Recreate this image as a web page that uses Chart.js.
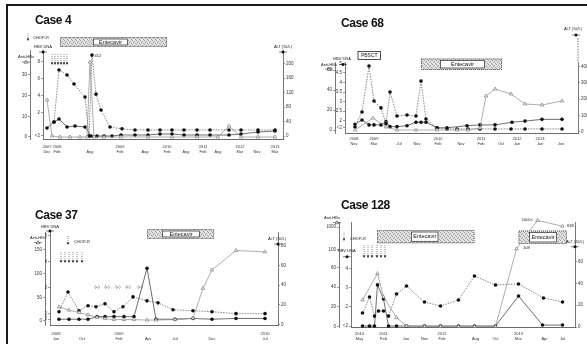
<!DOCTYPE html>
<html>
<head>
<meta charset="utf-8">
<title>HBV reactivation cases</title>
<script src="https://cdn.jsdelivr.net/npm/chart.js@4.4.1/dist/chart.umd.min.js"></script>
<style>
  html, body { margin: 0; padding: 0; background: #fff; }
  #page { position: relative; width: 587px; height: 344px; overflow: hidden; font-family: "Liberation Sans", Arial, sans-serif; }
  #page canvas { position: absolute; }
  .case { position: absolute; font-weight: bold; font-size: 12px; line-height: 12px; letter-spacing: -0.4px; color: #111; }
  .edge { position: absolute; background: #1a1a1a; }
</style>
</head>
<body>
<div id="page">
  <div class="edge" style="left:6px;top:4px;width:581px;height:1.5px"></div>
  <div class="edge" style="left:6px;top:4px;width:1.5px;height:340px"></div>
  <canvas id="case4" width="295" height="172" style="left:0;top:0"></canvas>
  <canvas id="case68" width="295" height="172" style="left:292px;top:0"></canvas>
  <canvas id="case37" width="295" height="172" style="left:0;top:172px"></canvas>
  <canvas id="case128" width="295" height="172" style="left:292px;top:172px"></canvas>
  <div class="case" style="left:35px;top:14px">Case 4</div>
  <div class="case" style="left:341px;top:17px">Case 68</div>
  <div class="case" style="left:35px;top:209px">Case 37</div>
  <div class="case" style="left:341px;top:199px">Case 128</div>
</div>
<script>
'use strict';

const FONT = '"Liberation Sans", Arial, sans-serif';

// ---- Case 4 ----
const case4TickX = [0, 10, 43, 73, 98, 120, 139, 156, 171, 193, 210, 228];
const case4TickText = [['2007', 'Dec'], ['2008', 'Feb'], ['', 'Aug'], ['2009', 'Feb'], ['', 'Aug'], ['2010', 'Feb'], ['', 'Aug'], ['2011', 'Feb'], ['', 'Aug'], ['2012', 'Mar'], ['', 'Nov'], ['2013', 'Mar']];
const case4AltX = [7, 12, 20, 27, 38, 42, 45, 49, 54, 63, 75, 88, 101, 113, 125, 137, 150, 163, 182, 194, 211, 228];
const case4Alt = [39, 183, 169, 144, 108, 0, 224, 116, 72, 25, 20, 17, 17, 17, 17, 17, 17, 17, 17, 17, 17, 17];
const case4DnaX = [0, 7, 12, 20, 28, 38, 44, 50, 57, 65, 74, 88, 101, 113, 125, 137, 150, 163, 182, 194, 211, 228];
const case4Dna = [0.24, 0.94, 1.29, 0.35, 0.47, 0.35, -0.71, -0.71, -0.71, -0.71, -0.59, -0.59, -0.59, -0.47, -0.47, -0.59, -0.59, -0.59, -0.59, -0.47, -0.24, -0.12];
const case4AntiX = [0, 5, 13, 23, 33, 40, 43, 47, 57, 74, 101, 125, 150, 171, 182, 194, 211, 228];
const case4Anti = [17.9, 0.5, 0, 0, 0, 0, 36.2, 0, 0, 0, 0, 0, 0, 0, 5.3, 0, 0, 0];
const case4AltTicks = [0, 40, 80, 120, 160, 200];
const case4DnaTicks = [-0.7, 2, 4, 6, 8];
const case4DnaText = ['<2', '2', '4', '6', '8'];
const case4AntiTicks = [0, 10, 20, 30];

// ---- Case 68 ----
const case68TickX = [0, 20, 45, 63, 84, 107, 127, 147, 163, 186, 207];
const case68TickText = [['2008', 'Nov'], ['2009', 'Mar'], ['', 'Jul'], ['', 'Nov'], ['2010', 'Feb'], ['', 'Nov'], ['2011', 'Feb'], ['', 'Oct'], ['2012', 'Jan'], ['2013', 'Jan'], ['', 'Jun']];
const case68AltX = [1, 8, 15, 20, 27, 32, 36, 43, 53, 62, 67, 72, 83, 93, 103, 114, 126, 141, 157, 171, 188, 208];
const case68Alt = [29, 121, 403, 188, 146, 47, 244, 96, 102, 96, 311, 78, 23, 17, 17, 17, 17, 17, 17, 17, 17, 17];
const case68DnaX = [1, 8, 15, 20, 27, 32, 36, 43, 53, 62, 67, 72, 83, 93, 113, 126, 141, 158, 171, 188, 208];
const case68Dna = [1.81, 2.04, 1.78, 1.78, 1.78, 1.95, 1.69, 1.69, 1.74, 1.92, 1.92, 1.92, 1.63, 1.63, 1.74, 1.78, 1.78, 1.92, 1.98, 2.07, 2.07];
const case68AntiX = [1, 19, 32, 43, 62, 83, 103, 114, 126, 132, 141, 157, 171, 188, 208];
const case68Anti = [0, 12, 3, 0, 0, 0, 0, 0, 2, 34, 41, 36, 26, 25, 29];
const case68AltTicks = [0, 100, 200, 300, 400];
const case68DnaTicks = [1.655, 2, 2.5, 3, 3.5, 4, 4.5, 5];
const case68DnaText = ['<2', '2', '2.5', '3', '3.5', '4', '4.5', '5'];
const case68AntiTicks = [0, 20, 40, 60];

// ---- Case 37 ----
const case37TickX = [0, 26, 63, 92, 119, 156, 209];
const case37TickText = [['2008', 'Jun'], ['', 'Oct'], ['2009', 'Feb'], ['', 'Apr'], ['', 'Jul'], ['', 'Dec'], ['2010', 'Jul']];
const case37AltX = [3, 12, 23, 32, 40, 49, 58, 67, 77, 91, 102, 117, 137, 156, 180, 209];
const case37Alt = [13, 33, 14, 19, 18, 21, 13, 18, 28, 24, 22, 15, 14, 13, 11, 11];
const case37DnaX = [3, 13, 23, 32, 41, 49, 58, 68, 78, 91, 100, 119, 137, 156, 180, 209];
const case37Dna = [1.77, 1.77, 1.77, 1.77, 1.87, 1.87, 1.87, 1.87, 1.87, 3.75, 1.77, 1.77, 1.8, 1.77, 1.8, 1.8];
const case37AntiX = [3, 13, 23, 32, 41, 49, 58, 68, 78, 91, 100, 119, 137, 147, 156, 180, 209];
const case37Anti = [30, 23, 18, 13, 8, 5, 3, 3, 3, 2, 2, 3, 6, 69, 108, 149, 146];
const case37AltTicks = [0, 20, 40, 60, 80];
const case37DnaTicks = [1.77, 2, 3, 4, 5];
const case37DnaText = ['<2', '2', '3', '4', '5'];
const case37AntiTicks = [0, 50, 100, 150];

// ---- Case 128 ----
const case128TickX = [0, 24, 46.5, 65, 82.5, 116, 136, 159, 185, 203];
const case128TickText = [['2010', 'May'], ['2011', 'Feb'], ['', 'Jun'], ['', 'Nov'], ['2012', 'Feb'], ['', 'Aug'], ['', 'Oct'], ['2013', 'Mar'], ['', 'Apr'], ['', 'Jul']];
const case128AltX = [3, 10, 15, 19, 24, 29, 37, 47, 65, 81, 99, 115, 136, 159, 184, 203];
const case128Alt = [12.8, 27.5, 10, 14.7, 14.7, 10, 30.2, 37.5, 22.9, 19.2, 24.7, 46.7, 38.5, 39.4, 26.6, 22.9];
const case128DnaX = [3, 10, 15, 18, 24, 29, 37, 47, 65, 81, 99, 115, 136, 159, 183, 203];
const case128Dna = [1, 1, 1, 3.14, 2.41, 1, 1, 1, 1, 1, 1, 1, 1, 2.56, 1.05, 1.05];
const case128AntiX = [3, 18, 24, 37, 47, 65, 81, 99, 115, 136, 157, 178, 203];
const case128Anti = [27, 54, 30, 9, 0.5, 0, 0, 0, 0, 0, 79, 108, 102];
const case128AltTicks = [0, 20, 40, 60];
const case128DnaTicks = [1, 2, 3, 4];
const case128DnaText = ['<2', '2', '3', '4'];
const case128AntiTicks = [0, 20, 40, 60, 78.5, 101];
const case128AntiText = ['0', '20', '40', '60', '100', '1000'];

Chart.defaults.font.family = FONT;

// little stippled tile for the therapy bars
let hatchTile = null;
function hatchFill(ctx) {
  if (!hatchTile) {
    hatchTile = document.createElement('canvas');
    hatchTile.width = 4;
    hatchTile.height = 4;
    const g = hatchTile.getContext('2d');
    g.fillStyle = '#e3e3e3';
    g.fillRect(0, 0, 4, 4);
    g.fillStyle = '#9c9c9c';
    [[0, 0], [2, 1], [1, 2], [3, 3]].forEach(p => g.fillRect(p[0], p[1], 1, 1));
  }
  return ctx.createPattern(hatchTile, 'repeat');
}

function drawSym(ctx, type, x, y) {
  ctx.strokeStyle = '#333';
  ctx.lineWidth = 0.6;
  ctx.beginPath();
  ctx.moveTo(x - 4, y);
  ctx.lineTo(x + 4, y);
  ctx.stroke();
  if (type === 'tri') {
    ctx.fillStyle = '#fff';
    ctx.beginPath();
    ctx.moveTo(x, y - 1.8);
    ctx.lineTo(x + 1.7, y + 1.2);
    ctx.lineTo(x - 1.7, y + 1.2);
    ctx.closePath();
    ctx.fill();
    ctx.stroke();
  } else {
    ctx.fillStyle = '#111';
    ctx.beginPath();
    ctx.arc(x, y, 1.5, 0, Math.PI * 2);
    ctx.fill();
  }
}

function drawArrow(ctx, x, top, bottom) {
  ctx.strokeStyle = '#444';
  ctx.lineWidth = 0.6;
  ctx.setLineDash([1, 1]);
  ctx.beginPath();
  ctx.moveTo(x, top);
  ctx.lineTo(x, bottom - 2);
  ctx.stroke();
  ctx.setLineDash([]);
  ctx.fillStyle = '#111';
  ctx.beginPath();
  ctx.moveTo(x - 1.3, bottom - 2.6);
  ctx.lineTo(x + 1.3, bottom - 2.6);
  ctx.lineTo(x, bottom);
  ctx.closePath();
  ctx.fill();
}

// boxes, arrows and labels that sit on top of each panel
const notesPlugin = {
  id: 'notes',
  afterDatasetsDraw(chart, args, opts) {
    const ctx = chart.ctx;
    const xs = chart.scales.x;
    const px = v => xs.getPixelForValue(v);
    ctx.save();

    (opts.axisExt || []).forEach(e => {
      const s = chart.scales[e.axis];
      const x = s.position === 'right' ? s.left : s.right;
      ctx.strokeStyle = '#555';
      ctx.lineWidth = 0.8;
      ctx.setLineDash([1.5, 1.2]);
      ctx.beginPath();
      ctx.moveTo(x, e.top);
      ctx.lineTo(x, chart.chartArea.top);
      ctx.stroke();
      ctx.setLineDash([]);
    });

    (opts.boxes || []).forEach(b => {
      const x0 = px(b.from);
      const x1 = px(b.to);
      const h = b.bottom - b.top;
      let cx = (x0 + x1) / 2;
      if (b.plain) {
        ctx.fillStyle = '#fff';
        ctx.fillRect(x0, b.top, x1 - x0, h);
        ctx.strokeStyle = '#222';
        ctx.lineWidth = 0.8;
        ctx.strokeRect(x0 + 0.5, b.top + 0.5, x1 - x0 - 1, h - 1);
      } else {
        ctx.fillStyle = hatchFill(ctx);
        ctx.fillRect(x0, b.top, x1 - x0, h);
        ctx.strokeStyle = '#444';
        ctx.lineWidth = 0.8;
        ctx.setLineDash([1, 1]);
        ctx.strokeRect(x0 + 0.5, b.top + 0.5, x1 - x0 - 1, h - 1);
        ctx.setLineDash([]);
        const i0 = px(b.inner[0]);
        const i1 = px(b.inner[1]);
        ctx.fillStyle = '#fff';
        ctx.fillRect(i0, b.top + 1.5, i1 - i0, h - 3);
        ctx.strokeStyle = '#222';
        ctx.lineWidth = 0.7;
        ctx.strokeRect(i0 + 0.5, b.top + 2, i1 - i0 - 1, h - 4);
        cx = (i0 + i1) / 2;
      }
      ctx.fillStyle = '#111';
      ctx.font = (b.size || 5.5) + 'px ' + FONT;
      ctx.textAlign = 'center';
      ctx.textBaseline = 'middle';
      ctx.fillText(b.text, cx, b.top + h / 2 + 0.3);
    });

    if (opts.arrows) {
      opts.arrows.at.forEach(v => drawArrow(ctx, px(v), opts.arrows.top, opts.arrows.bottom));
    }
    if (opts.legendArrow) {
      const l = opts.legendArrow;
      drawArrow(ctx, l.x, l.top, l.bottom);
      ctx.fillStyle = '#222';
      ctx.font = '4px ' + FONT;
      ctx.textAlign = 'left';
      ctx.textBaseline = 'middle';
      ctx.fillText(l.text, l.tx, l.ty);
    }

    (opts.texts || []).forEach(t => {
      const x = t.xv !== undefined ? px(t.xv) : t.xp;
      ctx.fillStyle = '#222';
      ctx.font = (t.size || 4) + 'px ' + FONT;
      ctx.textAlign = t.align || 'center';
      ctx.textBaseline = 'middle';
      ctx.fillText(t.text, x, t.y);
    });

    (opts.syms || []).forEach(s => drawSym(ctx, s.type, s.x, s.y));
    ctx.restore();
  }
};

function yScale(pos, weight, width, min, max, ticks, text) {
  return {
    type: 'linear',
    position: pos,
    weight: weight,
    min: min,
    max: max,
    afterFit: s => { s.width = width; },
    afterBuildTicks: s => { s.ticks = ticks.map(v => ({ value: v })); },
    border: { display: true, color: '#555', width: 0.8, dash: [1.5, 1.2] },
    grid: { display: true, drawOnChartArea: false, drawTicks: true, tickLength: 2, color: '#555', lineWidth: 0.6 },
    ticks: {
      font: { size: 4.5 },
      color: '#333',
      padding: 1,
      autoSkip: false,
      callback: (v, i) => (text ? text[i] : String(ticks[i]))
    }
  };
}

function makeCase(id, d, lay, notes) {
  const pts = (xs, ys) => xs.map((x, i) => ({ x: x, y: ys[i] }));
  new Chart(document.getElementById(id), {
    type: 'scatter',
    data: {
      datasets: [
        {
          label: 'Anti-HBs', data: pts(d.antiX, d.anti), yAxisID: 'yA', showLine: true, clip: false,
          borderColor: '#8a8a8a', borderWidth: 0.7, pointStyle: 'triangle', pointRadius: 2,
          pointBackgroundColor: '#fff', pointBorderColor: '#666', pointBorderWidth: 0.6
        },
        {
          label: 'ALT (IU/L)', data: pts(d.altX, d.alt), yAxisID: 'yR', showLine: true, clip: false,
          borderColor: '#6a6a6a', borderWidth: 0.8, borderDash: [1.5, 1.2], pointRadius: 1.8,
          pointBackgroundColor: '#111', pointBorderColor: '#111', pointBorderWidth: 0
        },
        {
          label: 'HBV DNA', data: pts(d.dnaX, d.dna), yAxisID: 'yD', showLine: true, clip: false,
          borderColor: '#4a4a4a', borderWidth: 0.8, pointRadius: 1.8,
          pointBackgroundColor: '#111', pointBorderColor: '#111', pointBorderWidth: 0
        }
      ]
    },
    options: {
      responsive: false,
      animation: false,
      events: [],
      layout: { padding: lay.pad },
      plugins: { legend: { display: false }, tooltip: { enabled: false }, notes: notes },
      scales: {
        x: {
          type: 'linear',
          min: lay.xMin,
          max: lay.xMax,
          afterFit: s => { s.height = lay.xH; },
          afterBuildTicks: s => { s.ticks = d.tickX.map(v => ({ value: v })); },
          border: { display: true, color: '#444', width: 0.8, dash: [1.5, 1.2] },
          grid: { display: false, drawTicks: false },
          ticks: {
            font: { size: 4, lineHeight: 1.35 },
            color: '#333',
            padding: lay.xPad,
            maxRotation: 0,
            autoSkip: false,
            callback: (v, i) => d.tickText[i]
          }
        },
        yA: yScale('left', 2, lay.antiW, lay.antiMin, lay.antiMax, d.antiTicks, d.antiText),
        yD: yScale('left', 1, lay.dnaW, lay.dnaMin, lay.dnaMax, d.dnaTicks, d.dnaText),
        yR: yScale('right', 1, lay.altW, lay.altMin, lay.altMax, d.altTicks, null)
      }
    },
    plugins: [notesPlugin]
  });
}

makeCase('case4', {
  tickX: case4TickX, tickText: case4TickText,
  altX: case4AltX, alt: case4Alt, dnaX: case4DnaX, dna: case4Dna, antiX: case4AntiX, anti: case4Anti,
  altTicks: case4AltTicks, dnaTicks: case4DnaTicks, dnaText: case4DnaText, antiTicks: case4AntiTicks
}, {
  pad: { left: 18, right: 0, top: 50, bottom: 13 }, antiW: 12, dnaW: 13, altW: 12, xH: 20, xPad: 5,
  xMin: -4, xMax: 236, altMin: -8, altMax: 238.1, dnaMin: -1.06, dnaMax: 9.41, antiMin: -0.97, antiMax: 42
}, {
  boxes: [{ from: 13, to: 120, top: 37, bottom: 47, inner: [46, 81], text: 'Entecavir' }],
  arrows: { at: [5, 8, 11, 14, 17, 20], top: 54, bottom: 65 },
  legendArrow: { x: 28, top: 33, bottom: 41, text: 'CHOP-R', tx: 33, ty: 37.5 },
  texts: [
    { xv: 47.5, y: 56, text: '412', align: 'left' },
    { xp: 26, y: 57, text: 'Anti-HBs' },
    { xp: 43, y: 47, text: 'HBV DNA' },
    { xp: 283, y: 47, text: 'ALT (IU/L)' }
  ],
  syms: [{ type: 'tri', x: 26, y: 62 }, { type: 'dot', x: 43, y: 52 }, { type: 'dot', x: 283, y: 52 }]
});

makeCase('case68', {
  tickX: case68TickX, tickText: case68TickText,
  altX: case68AltX, alt: case68Alt, dnaX: case68DnaX, dna: case68Dna, antiX: case68AntiX, anti: case68Anti,
  altTicks: case68AltTicks, dnaTicks: case68DnaTicks, dnaText: case68DnaText, antiTicks: case68AntiTicks
}, {
  pad: { left: 31, right: 0, top: 62, bottom: 19 }, antiW: 12, dnaW: 10, altW: 9, xH: 20, xPad: 3,
  xMin: -9, xMax: 224, altMin: -8, altMax: 427.6, dnaMin: 1.357, dnaMax: 5.07, antiMin: -3, antiMax: 68
}, {
  axisExt: [{ axis: 'yR', top: 38 }],
  boxes: [
    { from: 67, to: 148, top: 58.5, bottom: 70, inner: [86, 131], text: 'Entecavir' },
    { from: 3.5, to: 27, top: 51, bottom: 60, plain: true, text: 'PBSCT', size: 5 }
  ],
  texts: [
    { xp: 50, y: 58.5, text: 'HBV DNA' },
    { xp: 37, y: 64.5, text: 'Anti-HBs' },
    { xp: 281, y: 29, text: 'ALT (IU/L)' }
  ],
  syms: [{ type: 'dot', x: 51, y: 64.5 }, { type: 'tri', x: 37, y: 69 }, { type: 'dot', x: 284, y: 35 }]
});

makeCase('case37', {
  tickX: case37TickX, tickText: case37TickText,
  altX: case37AltX, alt: case37Alt, dnaX: case37DnaX, dna: case37Dna, antiX: case37AntiX, anti: case37Anti,
  altTicks: case37AltTicks, dnaTicks: case37DnaTicks, dnaText: case37DnaText, antiTicks: case37AntiTicks
}, {
  pad: { left: 33, right: 0, top: 60, bottom: 0 }, antiW: 12, dnaW: 5, altW: 17, xH: 19, xPad: 6,
  xMin: -6, xMax: 222, altMin: -0.5, altMax: 93.9, dnaMin: 1.546, dnaMax: 5.155, antiMin: -8.45, antiMax: 188
}, {
  boxes: [{ from: 91, to: 158, top: 57, bottom: 67, inner: [106, 144], text: 'Entecavir' }],
  arrows: { at: [5, 9, 13, 17, 21, 26], top: 80, bottom: 91 },
  legendArrow: { x: 68, top: 64, bottom: 73, text: 'CHOP-R', tx: 74, ty: 70 },
  texts: [
    { xv: 41, y: 114.7, text: '(+)' },
    { xv: 51, y: 114.7, text: '(+)' },
    { xv: 62, y: 114.7, text: '(+)' },
    { xv: 72, y: 114.7, text: '(+)' },
    { xv: 84, y: 114.7, text: '(+)' },
    { xp: 50, y: 54.5, text: 'HBV DNA' },
    { xp: 38, y: 66, text: 'Anti-HBs' },
    { xp: 277, y: 67, text: 'ALT (IU/L)' }
  ],
  syms: [{ type: 'dot', x: 50, y: 59 }, { type: 'tri', x: 38, y: 70.5 }, { type: 'dot', x: 278, y: 72 }]
});

makeCase('case128', {
  tickX: case128TickX, tickText: case128TickText,
  altX: case128AltX, alt: case128Alt, dnaX: case128DnaX, dna: case128Dna, antiX: case128AntiX, anti: case128Anti,
  altTicks: case128AltTicks, dnaTicks: case128DnaTicks, dnaText: case128DnaText,
  antiTicks: case128AntiTicks, antiText: case128AntiText
}, {
  pad: { left: 35, right: 0, top: 50, bottom: 0 }, antiW: 12, dnaW: 12, altW: 12, xH: 17, xPad: 4,
  xMin: -8.5, xMax: 215.5, altMin: 0, altMax: 96.2, dnaMin: 0.948, dnaMax: 6.417, antiMin: -0.5, antiMax: 106.3
}, {
  boxes: [
    { from: 17.5, to: 115, top: 58, bottom: 71.3, inner: [51.5, 79], text: 'Entecavir' },
    { from: 159, to: 207.5, top: 58.5, bottom: 72, inner: [169.5, 197.5], text: 'Entecavir' }
  ],
  arrows: { at: [4.5, 8.5, 12.5, 17.5, 21.5, 25.5], top: 73, bottom: 86 },
  legendArrow: { x: 52, top: 61, bottom: 69, text: 'CHOP-R', tx: 58, ty: 66.5 },
  texts: [
    { xv: 163.5, y: 76, text: '108', align: 'left' },
    { xv: 173.5, y: 47.5, text: '1000<', align: 'right' },
    { xv: 207.5, y: 54, text: '638', align: 'left' },
    { xp: 40, y: 45.5, text: 'Anti-HBs' },
    { xp: 54.7, y: 78.7, text: 'HBV DNA' },
    { xp: 283, y: 69.7, text: 'ALT (IU/L)' }
  ],
  syms: [{ type: 'tri', x: 45, y: 50.5 }, { type: 'dot', x: 55, y: 84.7 }, { type: 'dot', x: 283, y: 74.7 }]
});
</script>
</body>
</html>
